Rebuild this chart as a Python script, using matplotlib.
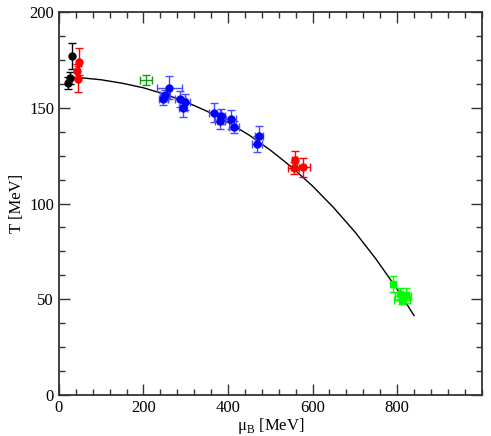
import numpy as np
import matplotlib
matplotlib.use('Agg')
import matplotlib.pyplot as plt
from matplotlib.ticker import MultipleLocator

plt.rcParams['font.family'] = ['Liberation Serif', 'DejaVu Serif']
plt.rcParams['mathtext.fontset'] = 'custom'
plt.rcParams['mathtext.rm'] = 'Liberation Serif'

# freeze-out curve
curve_mu = [25, 50, 100, 150, 200, 250, 300, 350, 400, 450, 500, 550, 600, 650, 700, 750, 800, 840]
curve_T = [165.9, 165.7, 164.6, 162.8, 160.4, 157.1, 153.1, 148.2, 142.4, 135.7, 127.9, 119.1,
           109.1, 97.8, 85.2, 71.0, 55.3, 41.5]

# black points
black_mu = [30, 26, 22]
black_T = [177, 165.5, 163]
black_Terr = [7, 3, 3]

# red points
red_mu = [47, 42, 44, 558, 555, 578]
red_T = [174, 169, 165, 122.5, 118.5, 119]
red_muerr = [0, 0, 0, 6, 12, 15]
red_Terr = [7, 4, 7, 5, 3, 5]

# blue points
blue_mu = [261, 251, 247, 286, 298, 294, 368, 383, 381, 407, 414, 473, 468]
blue_T = [160.5, 156.5, 154.5, 154.5, 153, 150, 147.5, 145.5, 143, 144, 140, 135.5, 131]
blue_muerr = [30, 12, 10, 12, 12, 10, 12, 10, 12, 12, 12, 10, 12]
blue_Terr = [6, 3, 3, 4, 4, 5, 5, 4, 4, 5, 3, 5, 4]

# light green points
green_mu = [791, 815, 821, 811, 807]
green_T = [58, 51.5, 52, 49.5, 53]
green_muerr = [0, 19, 8, 19, 0]
green_Terr = [4, 2, 4, 2, 3]

# dark green cross
cross_mu = [206]
cross_T = [164.5]
cross_muerr = [15]
cross_Terr = [2.5]

fig = plt.figure(figsize=(4.91, 4.36), dpi=100)
ax = fig.add_axes([0.120, 0.094, 0.861, 0.8785])

ax.plot(curve_mu, curve_T, color='black', lw=1.0, zorder=3)

ax.errorbar(black_mu, black_T, yerr=black_Terr, fmt='o', color='black', ms=5,
            capsize=3, elinewidth=1, zorder=4)
ax.errorbar(red_mu, red_T, xerr=red_muerr, yerr=red_Terr, fmt='o', color='red', ms=5,
            capsize=3, elinewidth=1, zorder=4)
ax.errorbar(blue_mu, blue_T, xerr=blue_muerr, yerr=blue_Terr, fmt='o', color='blue', ms=5,
            ecolor='#4a4aff', capsize=3, elinewidth=1, zorder=4)
ax.errorbar(green_mu, green_T, xerr=green_muerr, yerr=green_Terr, fmt='s', color='#00ff00', ms=5,
            capsize=3, elinewidth=1, zorder=4)
ax.errorbar(cross_mu, cross_T, xerr=cross_muerr, yerr=cross_Terr, fmt='none', ecolor='#119911',
            capsize=3, elinewidth=1, zorder=4)

ax.set_xlim(0, 1000)
ax.set_ylim(0, 200)
ax.set_xticks([0, 200, 400, 600, 800])
ax.set_yticks([0, 50, 100, 150, 200])
ax.xaxis.set_minor_locator(MultipleLocator(40))
ax.yaxis.set_minor_locator(MultipleLocator(12.5))
ax.tick_params(which='both', direction='in', top=True, right=True, labelsize=12,
               color='#333333', width=1.0)
ax.tick_params(which='major', length=8)
ax.tick_params(which='minor', length=4)
for s in ax.spines.values():
    s.set_linewidth(1.3)
    s.set_color('#333333')

ax.set_xlabel('μ$_{\\rm B}$ [MeV]', fontsize=12, labelpad=0)
ax.set_ylabel('T [MeV]', fontsize=12, labelpad=3)

fig.savefig('out.png', dpi=100)
